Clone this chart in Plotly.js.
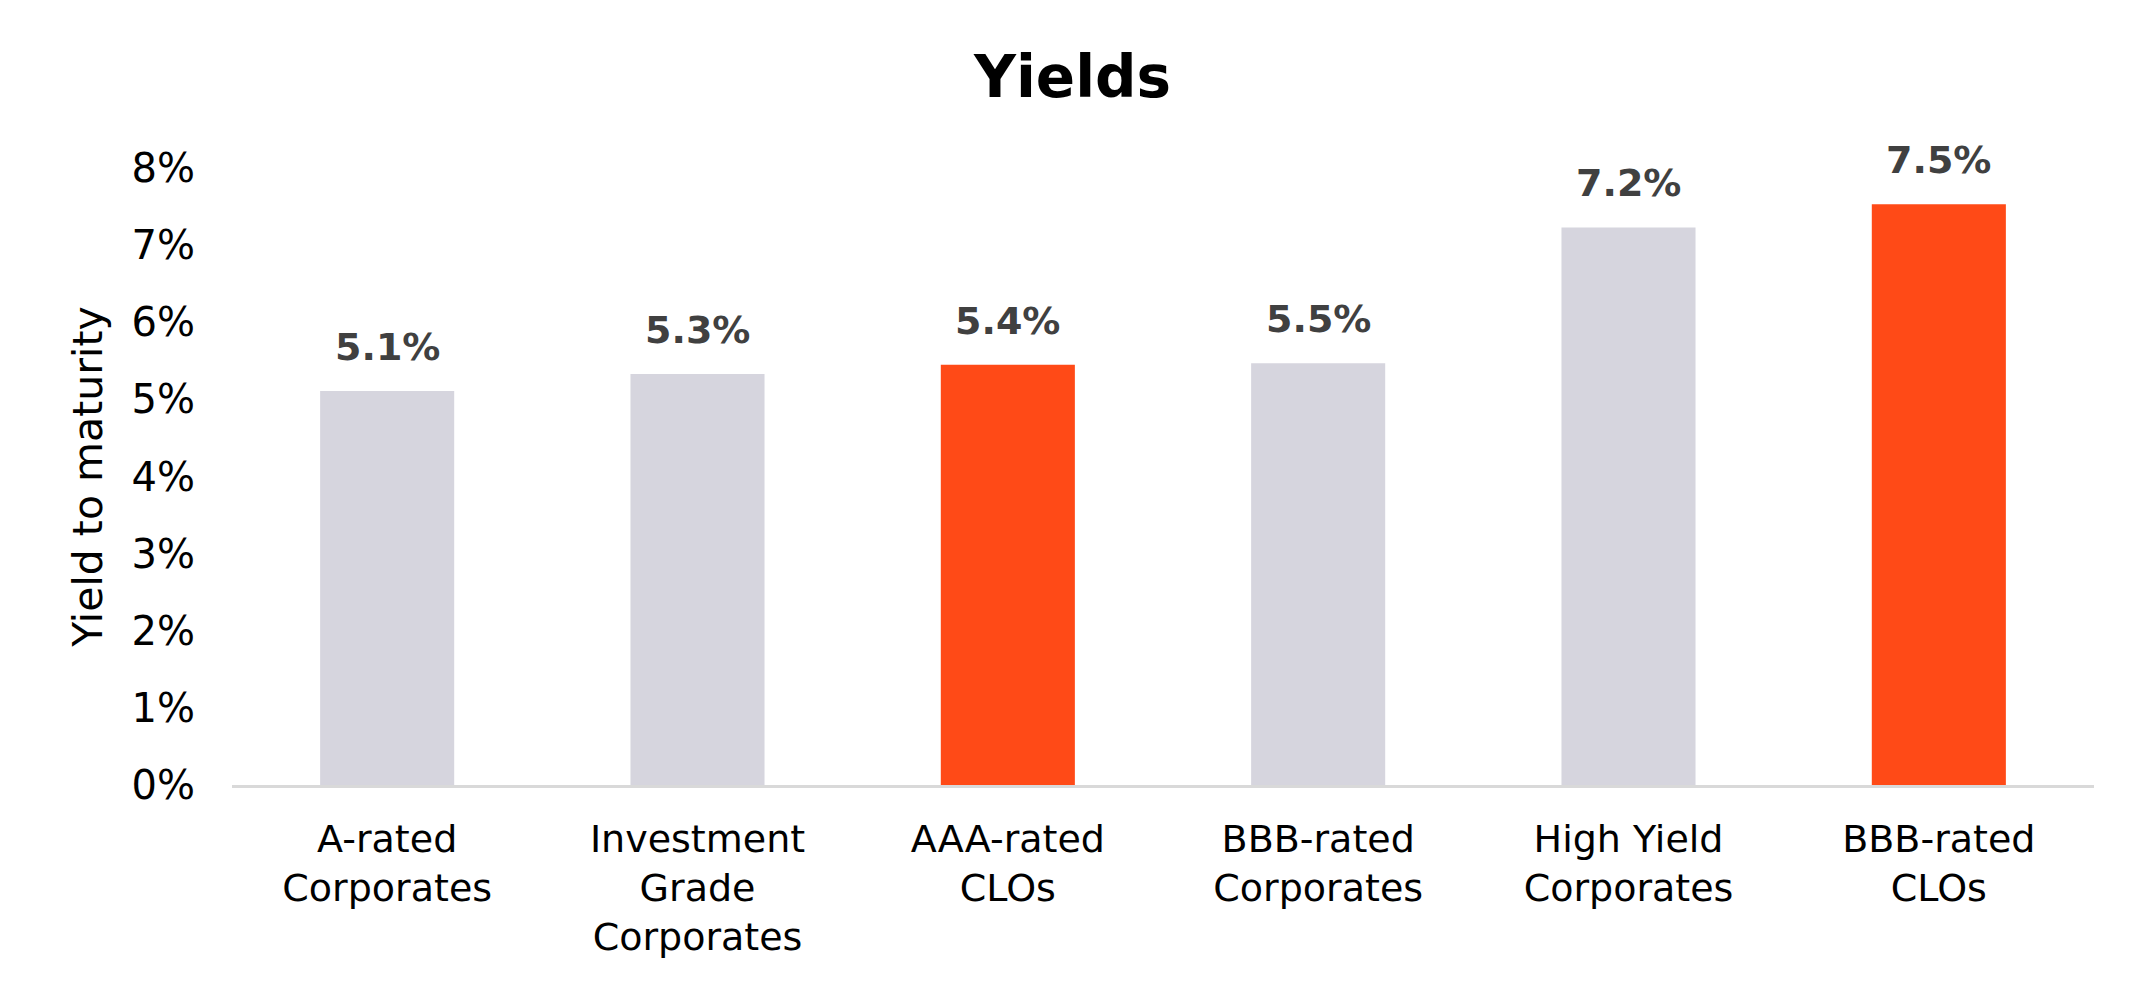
<!DOCTYPE html>
<html>
<head>
<meta charset="utf-8">
<script src="https://cdn.plot.ly/plotly-3.0.1.min.js"></script>
<style>html,body{margin:0;padding:0;background:#fff;}#chart{width:2145px;height:990px;}</style>
</head>
<body>
<div id="chart"></div>
<script>
const categories = ['A-rated<br>Corporates', 'Investment<br>Grade<br>Corporates', 'AAA-rated<br>CLOs', 'BBB-rated<br>Corporates', 'High Yield<br>Corporates', 'BBB-rated<br>CLOs'];
const yields = [5.11, 5.33, 5.45, 5.47, 7.23, 7.53];
const valueLabels = ['5.1%', '5.3%', '5.4%', '5.5%', '7.2%', '7.5%'];
const barColors = ['#D6D5DE', '#D6D5DE', '#FF4A17', '#D6D5DE', '#D6D5DE', '#FF4A17'];
const yTicks = [0, 1, 2, 3, 4, 5, 6, 7, 8];

const trace = {
  type: 'bar',
  x: categories,
  y: yields,
  marker: {color: barColors},
  hoverinfo: 'skip'
};

const annotations = categories.map((c, i) => ({
  x: c, y: yields[i], xref: 'x', yref: 'y',
  text: valueLabels[i], showarrow: false,
  yanchor: 'bottom', yshift: 20,
  font: {family: 'DejaVu Sans', size: 38, color: '#404040', weight: 'bold'}
}));

const layout = {
  width: 2145, height: 990,
  margin: {l: 232, r: 51, t: 168, b: 205},
  paper_bgcolor: '#ffffff', plot_bgcolor: '#ffffff',
  showlegend: false,
  bargap: 0.568,
  title: {
    text: '<b>Yields</b>',
    font: {family: 'DejaVu Sans', size: 58, color: '#000000'},
    x: 0.5, xref: 'container', xanchor: 'center',
    y: 1 - 77/990, yref: 'container', yanchor: 'middle'
  },
  xaxis: {
    type: 'category',
    range: [-0.5, 5.5],
    showline: true, linecolor: '#D9D9D9', linewidth: 3,
    showgrid: false, zeroline: false, ticks: '',
    tickfont: {family: 'DejaVu Sans', size: 38, color: '#000000'},
    ticklabelstandoff: 18
  },
  yaxis: {
    range: [0, 8],
    tickvals: yTicks,
    ticktext: yTicks.map(v => v + '%'),
    showgrid: false, zeroline: false, showline: false, ticks: '',
    tickfont: {family: 'DejaVu Sans', size: 40, color: '#000000'},
    ticklabelstandoff: 36,
    title: {text: 'Yield to maturity', standoff: 16,
      font: {family: 'DejaVu Sans', size: 41, color: '#000000'}}
  },
  annotations: annotations
};

Plotly.newPlot('chart', [trace], layout, {staticPlot: true, displayModeBar: false});
</script>
</body>
</html>
